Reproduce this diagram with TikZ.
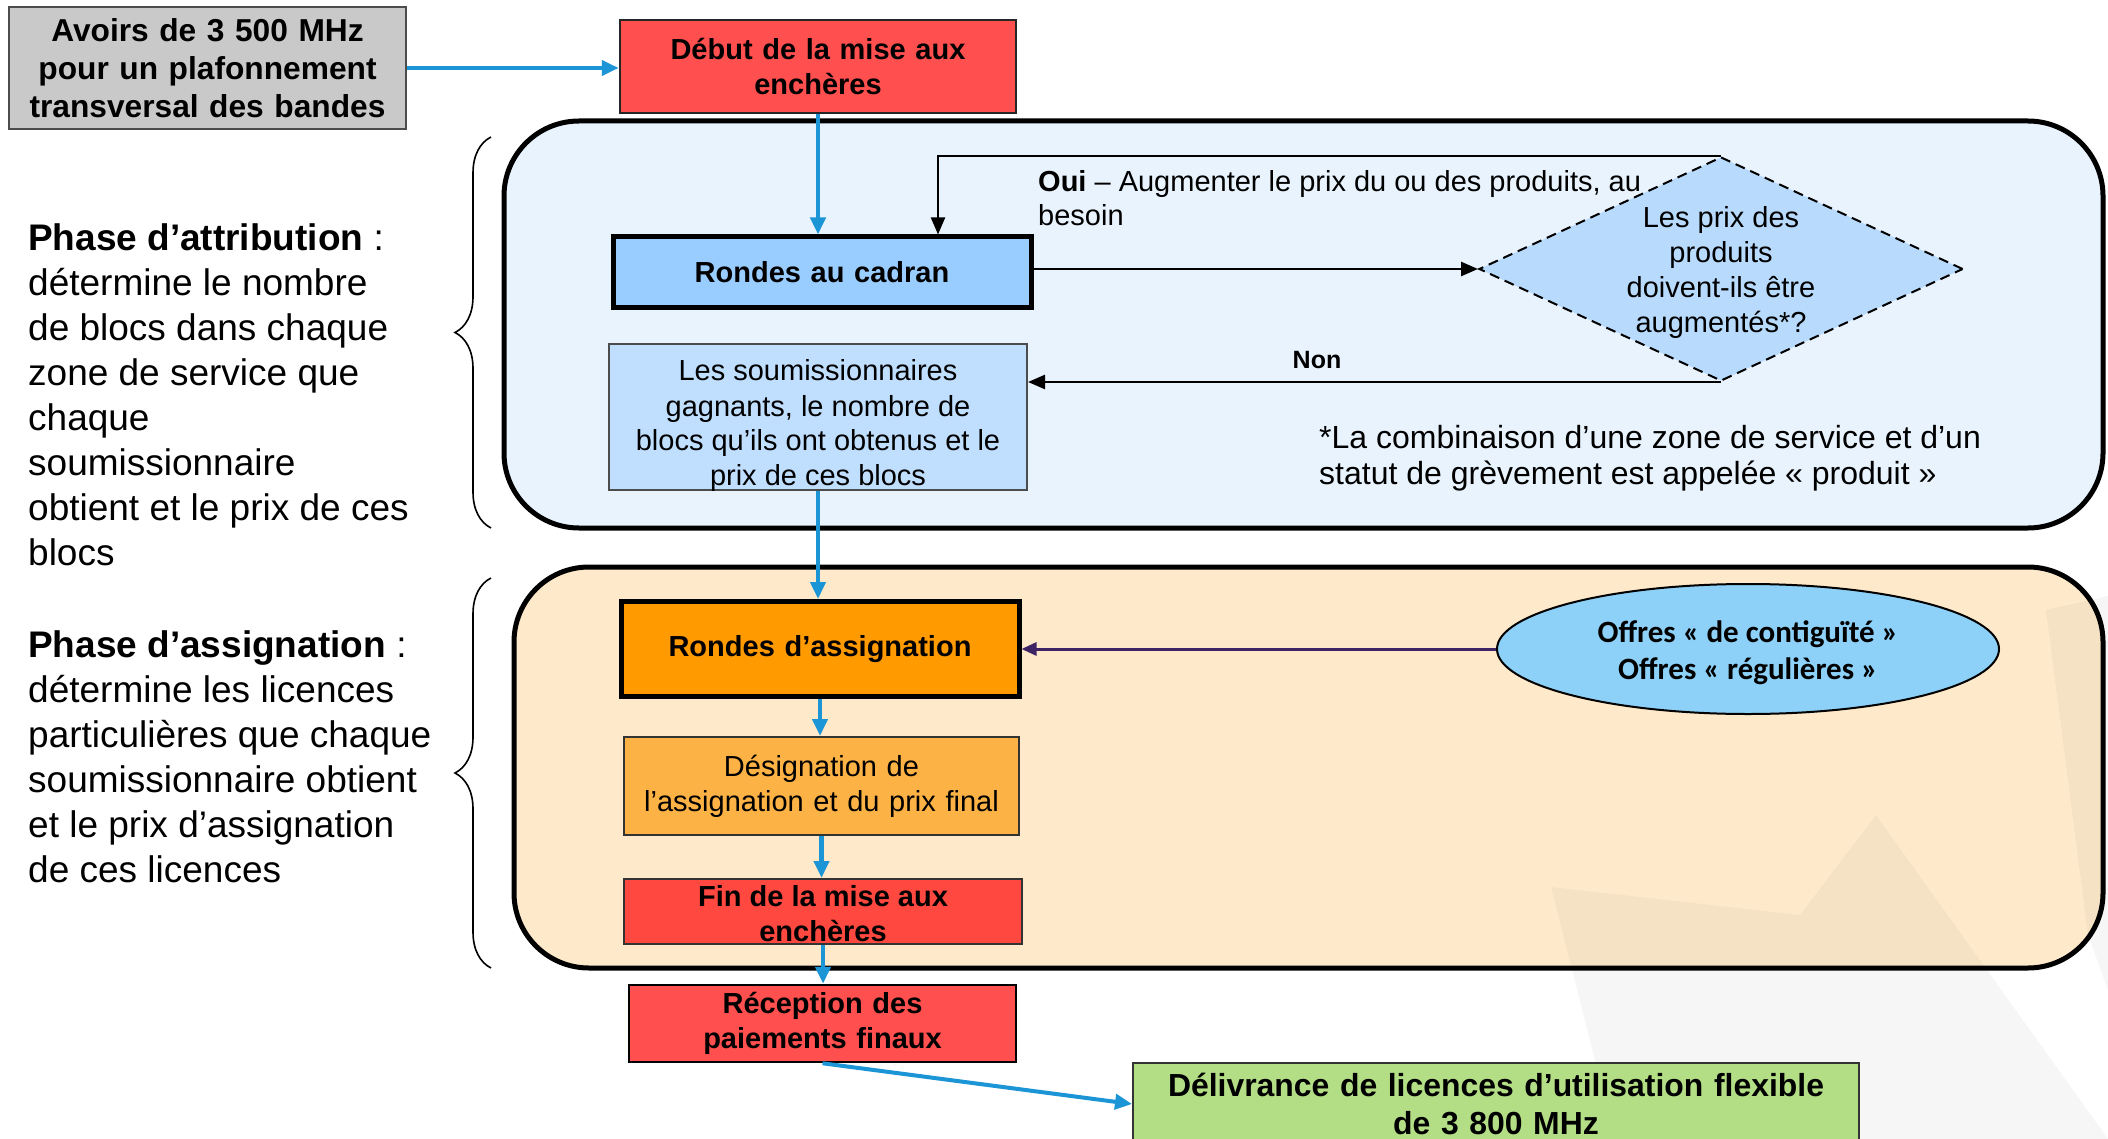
\documentclass[tikz,border=0pt]{standalone}
\usepackage{fontspec}
\setmainfont{Liberation Sans}
\newfontfamily\carlito{Carlito}
\usetikzlibrary{arrows.meta,shapes.geometric,decorations.pathreplacing}
\definecolor{greyfill}{HTML}{C9C9C9}
\definecolor{redA}{HTML}{FF4F4F}
\definecolor{redB}{HTML}{FF4840}
\definecolor{panelblue}{HTML}{E9F3FD}
\definecolor{cadranblue}{HTML}{99CCFF}
\definecolor{soumblue}{HTML}{C0DFFF}
\definecolor{diamblue}{HTML}{B8DBFD}
\definecolor{panelpeach}{HTML}{FEEACB}
\definecolor{orangeA}{HTML}{FF9A00}
\definecolor{orangeB}{HTML}{FDB245}
\definecolor{greenA}{HTML}{B3DE85}
\definecolor{ellblue}{HTML}{8DD1F8}
\definecolor{flowblue}{HTML}{1B95D5}
\definecolor{purpleA}{HTML}{3E2465}
\begin{document}
\begin{tikzpicture}[x=1pt,y=-1pt,
  fa/.style={font=\fontsize{29}{35}\selectfont},
  fb/.style={font=\bfseries\fontsize{29}{35}\selectfont},
  boxbase/.style={rectangle,inner sep=0pt,align=center},
  thinbox/.style={boxbase,draw=black!80,line width=2pt},
  thickbox/.style={boxbase,draw=black,line width=5pt},
  plaintext/.style={inner sep=0pt,align=center},
  panel/.style={draw=black,line width=5pt,rounded corners=75pt},
  flow/.style={draw=flowblue,line width=4.5pt,-{Triangle[length=17pt,width=15pt]}},
  blk/.style={draw=black,line width=2.5pt,-{Triangle[length=17pt,width=14pt]}},
  sidetext/.style={anchor=north west,inner sep=0pt,align=left,font=\fontsize{37}{45}\selectfont},
  bracestyle/.style={draw=black,line width=1.6pt,decorate,decoration={brace,amplitude=36pt}}
]
\useasboundingbox (0,0) rectangle (2108,1139);
\fill[white] (0,0) rectangle (2108,1139);

% panels
\path[panel,fill=panelblue] (504,121) rectangle (2103,528);
\path[panel,fill=panelpeach] (514,567) rectangle (2103,968);

% faint watermark
\fill[black,opacity=0.035] (1551,887) -- (1800,915) -- (1876,815) -- (2108,1139) -- (1615,1139) -- cycle;
\fill[black,opacity=0.035] (2046,610) -- (2108,596) -- (2108,990) -- (2088,935) -- cycle;

% left texts
\node[sidetext] (attrtxt) at (28,223) {\textbf{Phase d’attribution} :\\détermine le nombre\\de blocs dans chaque\\zone de service que\\chaque\\soumissionnaire\\obtient et le prix de ces\\blocs};
\node[sidetext] (assigtxt) at (28,630) {\textbf{Phase d’assignation} :\\détermine les licences\\particulières que chaque\\soumissionnaire obtient\\et le prix d’assignation\\de ces licences};

% braces
\coordinate (b1a) at (491,528);
\coordinate (b1b) at (491,137);
\coordinate (b2a) at (491,968);
\coordinate (b2b) at (491,578);
\draw[bracestyle] (b1a) -- (b1b);
\draw[bracestyle] (b2a) -- (b2b);

% nodes
\node[thinbox,draw=black!70,fill=greyfill,minimum width=397pt,minimum height=122pt,text width=390pt,font=\bfseries\fontsize{31.7}{38}\selectfont] (avoirs) at (207.5,68) {Avoirs de 3 500 MHz\\pour un plafonnement\\transversal des bandes};
\node[thinbox,draw=black!85,line width=2.5pt,fill=redA,minimum width=396pt,minimum height=93pt,text width=390pt,fb] (debut) at (818,66.5) {Début de la mise aux\\enchères};
\node[thickbox,fill=cadranblue,minimum width=418pt,minimum height=71pt,text width=410pt,fb] (cadran) at (822,272.5) {Rondes au cadran};
\node[thinbox,draw=black!70,fill=soumblue,minimum width=418pt,minimum height=146pt] (soum) at (818,417) {};
\node[plaintext,fa] (soumtxt) at (818,426) {Les soumissionnaires\\gagnants, le nombre de\\blocs qu’ils ont obtenus et le\\prix de ces blocs};
\node[diamond,draw=black,dashed,dash pattern=on 10pt off 6pt,line width=2pt,fill=diamblue,minimum width=484pt,minimum height=224pt,aspect=2.16,inner sep=0pt] (diam) at (1721,269) {};
\node[plaintext,fa] (diamtxt) at (1721,273) {Les prix des\\produits\\doivent-ils être\\augmentés*?};

\node[thickbox,fill=orangeA,minimum width=398pt,minimum height=95pt,text width=390pt,fb] (ass) at (820,649) {Rondes d’assignation};
\node[thinbox,fill=orangeB,minimum width=395pt,minimum height=98pt,text width=390pt,fa] (desig) at (821.5,786) {Désignation de\\l’assignation et du prix final};
\node[thinbox,fill=redB,minimum width=398pt,minimum height=65pt] (fin) at (823,911.5) {};
\node[plaintext,fb] (fintxt) at (823,914) {Fin de la mise aux\\enchères};
\node[thinbox,draw=black,line width=2.5pt,fill=redA,minimum width=387pt,minimum height=77pt,text width=380pt,fb] (recep) at (822.5,1023.5) {Réception des\\paiements finaux};
\node[thinbox,draw=black!80,fill=greenA,minimum width=726pt,minimum height=82pt,text width=720pt,font=\bfseries\fontsize{31.9}{38}\selectfont] (deliv) at (1496,1104) {Délivrance de licences d’utilisation flexible\\de 3 800 MHz};
\node[ellipse,draw=black,line width=2pt,fill=ellblue,minimum width=502pt,minimum height=130pt,inner sep=0pt] (ell) at (1748,649) {};
\node[plaintext,font=\carlito\bfseries\fontsize{31}{37}\selectfont] (elltxt) at (1748,653) {Offres « de contiguïté »\\Offres « régulières »};

% labels
\node[anchor=north west,inner sep=0pt,align=left,font=\fontsize{29}{34}\selectfont] (oui) at (1038,170) {\textbf{Oui} – Augmenter le prix du ou des produits, au\\besoin};
\node[inner sep=0pt,font=\bfseries\fontsize{25}{30}\selectfont] (non) at (1317,360) {Non};
\node[anchor=north west,inner sep=0pt,align=left,font=\fontsize{32}{36}\selectfont] (note) at (1319,425) {*La combinaison d’une zone de service et d’un\\statut de grèvement est appelée « produit »};

% connectors
\draw[flow] (avoirs.east) -- (avoirs.east -| debut.west);
\draw[flow] (debut.south) -- (debut.south |- cadran.north);
\draw[flow] (soum.south) -- (soum.south |- ass.north);
\draw[flow] (ass.south) -- (ass.south |- desig.north);
\draw[flow] (desig.south) -- (desig.south |- fin.north);
\draw[flow] (fin.south) -- (fin.south |- recep.north);
\draw[flow,line width=4pt] (recep.south) -- (deliv.west);

\coordinate (loopc) at (938,157);
\draw[blk,line width=2pt] (diam.north) -- (diam.north -| loopc) -- (loopc |- cadran.north);
\draw[blk] (cadran.east |- diam.west) -- (diam.west);
\draw[blk] (diam.south) -- (diam.south -| soum.east);
\draw[draw=purpleA,line width=3pt,-{Triangle[length=15pt,width=13pt]}] (ell.west) -- (ell.west -| ass.east);
\end{tikzpicture}
\end{document}
